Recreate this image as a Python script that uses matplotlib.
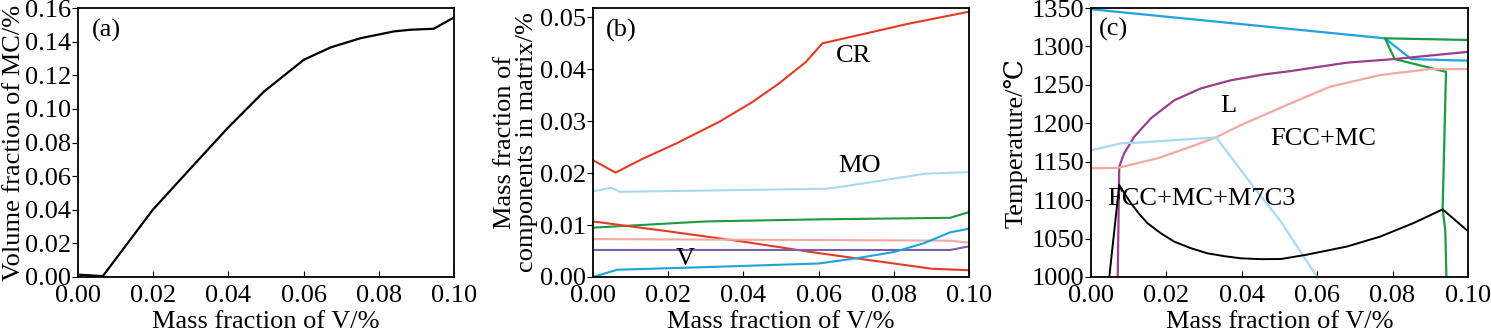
import numpy as np
import matplotlib
matplotlib.use('Agg')
import matplotlib.pyplot as plt

plt.rcParams['font.family'] = ['Liberation Serif', 'DejaVu Serif']
plt.rcParams['font.size'] = 19

# (a) volume fraction of MC
a_x = [0.0, 0.0066, 0.0199, 0.0292, 0.0398, 0.0495, 0.0601, 0.0672, 0.0752, 0.084, 0.0884, 0.0946, 0.1]
a_y = [0.0014, 0.0005, 0.040, 0.0628, 0.0886, 0.1104, 0.1293, 0.1366, 0.1421, 0.1461, 0.1471, 0.1477, 0.1544]

# (b) mass fraction of components in matrix
cr_x = [0.0, 0.006, 0.0133, 0.0221, 0.0336, 0.0424, 0.0495, 0.0566, 0.061, 0.0707, 0.084, 0.1]
cr_y = [0.0225, 0.0201, 0.0228, 0.0257, 0.0299, 0.0337, 0.0373, 0.0414, 0.0450, 0.0466, 0.0488, 0.0511]
mo_x = [0.0, 0.0049, 0.0071, 0.0619, 0.0654, 0.0796, 0.0884, 0.1]
mo_y = [0.0165, 0.0172, 0.0164, 0.0170, 0.0173, 0.0189, 0.0199, 0.0202]
g_x = [0.0, 0.01, 0.03, 0.06, 0.095, 0.1]
g_y = [0.0095, 0.0099, 0.0107, 0.0111, 0.0114, 0.0125]
r2_x = [0.0, 0.02, 0.04, 0.06, 0.07, 0.08, 0.09, 0.1]
r2_y = [0.0107, 0.0088, 0.0068, 0.0046, 0.0036, 0.0026, 0.0016, 0.0013]
pk_x = [0.0, 0.095, 0.1]
pk_y = [0.0073, 0.0070, 0.0066]
v_x = [0.0, 0.095, 0.1]
v_y = [0.0052, 0.0052, 0.0059]
bl_x = [0.0, 0.0065, 0.03, 0.06, 0.07, 0.08, 0.088, 0.095, 0.1]
bl_y = [0.0, 0.0014, 0.0019, 0.0026, 0.0036, 0.0048, 0.0065, 0.0086, 0.0093]

# (c) phase diagram
liq_x = [0.0, 0.078, 0.085, 0.1]
liq_y = [1348.5, 1310.6, 1283.6, 1281.5]
grn_x = [0.1, 0.078, 0.0806, 0.0942, 0.0933, 0.094, 0.0943]
grn_y = [1308.5, 1310.6, 1283.6, 1267, 1088, 1061, 1000]
pur_x = [0.0071, 0.0075, 0.0088, 0.0115, 0.0159, 0.0221, 0.0292, 0.0371, 0.046, 0.053,
         0.0678, 0.0806, 0.1]
pur_y = [1000, 1143.5, 1161, 1182.6, 1206.5, 1230, 1245.5, 1256, 1263.7, 1268,
         1278.9, 1283.7, 1293]
pnk_x = [0.0, 0.0071, 0.0177, 0.0265, 0.0332, 0.0398, 0.0469, 0.053, 0.0634, 0.0767, 0.09, 0.1]
pnk_y = [1141.4, 1142, 1154.5, 1169.6, 1181.7, 1197.8, 1213, 1226, 1247.6, 1262.8, 1270.6, 1270.6]
sky_x = [0.0, 0.008, 0.0115, 0.0332, 0.0424, 0.0501, 0.0600]
sky_y = [1165, 1174, 1174.6, 1181.7, 1122, 1074, 1000]
blk_x = [0.00486, 0.0075, 0.0090, 0.0106, 0.0128, 0.015, 0.0185, 0.0221, 0.0265, 0.0309,
         0.0355, 0.0398, 0.045, 0.0504, 0.0568, 0.0678, 0.0767, 0.0855, 0.0933, 0.0997]
blk_y = [1000, 1119.7, 1108, 1096, 1082, 1070, 1057, 1046, 1037.5, 1030.8,
         1027, 1024.3, 1023.2, 1023.4, 1028.6, 1039.5, 1052.5, 1070, 1088, 1061]

red = '#e53a24'
skyblue = '#a9daf2'
green = '#1e9a40'
pink = '#f2a9a0'
violet = '#7a5fb0'
blue = '#1ea3df'
plum = '#9b3f8c'

fig = plt.figure(figsize=(14.91, 3.32), dpi=100)
axa = fig.add_axes([0.0523, 0.1657, 0.2522, 0.810])
axb = fig.add_axes([0.3977, 0.1657, 0.2522, 0.810])
axc = fig.add_axes([0.7317, 0.1657, 0.2528, 0.810])

for ax in (axa, axb, axc):
    ax.tick_params(axis='x', direction='in', length=4, pad=6)
    ax.tick_params(axis='y', direction='out', length=4, pad=1)
    for s in ax.spines.values():
        s.set_linewidth(1.3)
    ax.set_xlim(0, 0.1)
    ax.set_xticks(np.arange(0, 0.101, 0.02))
    ax.set_xticklabels(['%.2f' % t for t in np.arange(0, 0.101, 0.02)])
    ax.set_xlabel('Mass fraction of V/%')
    ax.xaxis.set_label_coords(0.5, -0.125)

# (a)
axa.plot(a_x, a_y, color='black', lw=1.6)
axa.set_ylim(0, 0.16)
axa.set_yticks(np.arange(0, 0.161, 0.02))
axa.set_yticklabels(['%.2f' % t for t in np.arange(0, 0.161, 0.02)])
axa.set_ylabel('Volume fraction of MC/%')
axa.yaxis.set_label_coords(-0.142, 0.5)
axa.text(0.0075, 0.1467, '(a)', ha='center', va='center')

# (b)
axb.plot(cr_x, cr_y, color=red, lw=1.5)
axb.plot(mo_x, mo_y, color=skyblue, lw=1.5)
axb.plot(g_x, g_y, color=green, lw=1.5)
axb.plot(r2_x, r2_y, color=red, lw=1.5)
axb.plot(pk_x, pk_y, color=pink, lw=1.5)
axb.plot(v_x, v_y, color=violet, lw=1.5)
axb.plot(bl_x, bl_y, color=blue, lw=1.5)
axb.set_ylim(0, 0.0518)
axb.set_yticks(np.arange(0, 0.051, 0.01))
axb.set_yticklabels(['%.2f' % t for t in np.arange(0, 0.051, 0.01)])
axb.set_ylabel('Mass fraction of\ncomponents in matrix/%', linespacing=1.0)
axb.yaxis.set_label_coords(-0.146, 0.5)
axb.text(0.0075, 0.0475, '(b)', ha='center', va='center')
axb.text(0.0693, 0.0426, 'CR', ha='center', va='center')
axb.text(0.0709, 0.0214, 'MO', ha='center', va='center')
axb.text(0.0245, 0.0035, 'V', ha='center', va='center')

# (c)
axc.plot(liq_x, liq_y, color=blue, lw=1.6)
axc.plot(grn_x, grn_y, color=green, lw=1.6)
axc.plot(pur_x, pur_y, color=plum, lw=1.6)
axc.plot(pnk_x, pnk_y, color=pink, lw=1.6)
axc.plot(sky_x, sky_y, color=skyblue, lw=1.6)
axc.plot(blk_x, blk_y, color='black', lw=1.4)
axc.set_ylim(1000, 1350)
axc.set_yticks(np.arange(1000, 1351, 50))
axc.set_ylabel('Temperature/\u2103')
axc.yaxis.set_label_coords(-0.167, 0.5)
axc.text(0.006, 1322, '(c)', ha='center', va='center')
axc.text(0.0365, 1222, 'L', ha='center', va='center')
axc.text(0.0617, 1180, 'FCC+MC', ha='center', va='center')
axc.text(0.0294, 1101, 'FCC+MC+M7C3', ha='center', va='center')

fig.savefig('out.png', dpi=100)
